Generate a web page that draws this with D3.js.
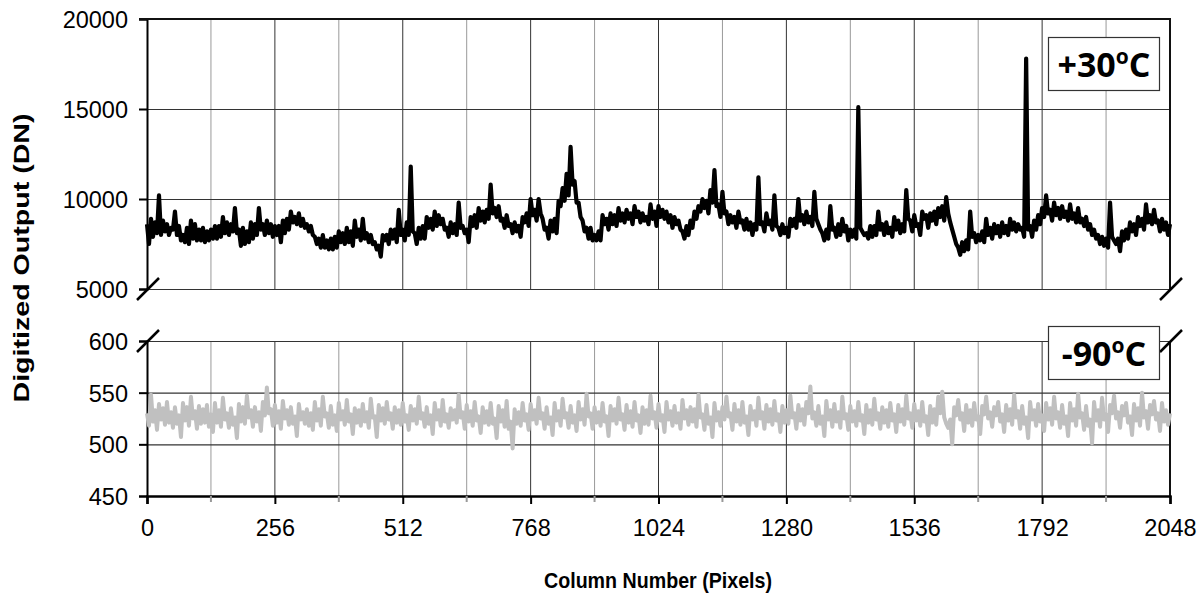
<!DOCTYPE html>
<html>
<head>
<meta charset="utf-8">
<script src="https://cdn.jsdelivr.net/npm/d3@7"></script>
<style>
  body { margin: 0; background: #fff; }
  text { font-family: "Liberation Sans", Arial, sans-serif; fill: #000; }
  .tick text { font-size: 23.5px; }
  .title { font-size: 22px; font-weight: bold; }
  .tag { font-family: "Open Sans", sans-serif; font-weight: bold; font-size: 34px; }
</style>
</head>
<body>
<svg id="chart" width="1202" height="597"></svg>
<script>
// column step of the sampled profiles (pixels)
const STEP = 4;

const xTicks = [0, 256, 512, 768, 1024, 1280, 1536, 1792, 2048];
const topTicks = [5000, 10000, 15000, 20000];
const bottomTicks = [450, 500, 550, 600];

// +30 C profile, one value every 4 columns
const warmValues = [
  8600, 7500, 8900, 7900, 8700, 8100, 10200, 8000, 8800, 8200, 8600, 8000, 8400, 8300, 9300, 8000,
  8500, 7700, 8000, 7600, 8400, 7500, 8800, 7800, 8600, 7700, 8300, 7700, 8400, 7600, 8200, 7700,
  8300, 7800, 8500, 7800, 8500, 7900, 9000, 8100, 8700, 8000, 8600, 8200, 9500, 8100, 8300, 7400,
  8400, 7500, 8200, 7600, 8700, 7800, 8600, 8000, 9500, 8300, 8600, 8000, 8800, 8100, 8600, 7900,
  8500, 8000, 8500, 7600, 8800, 8100, 8900, 8300, 9300, 8700, 9000, 8600, 9200, 8500, 8900, 8400,
  8600, 8200, 8500, 8000, 7900, 7500, 7800, 7300, 8000, 7300, 7700, 7200, 7800, 7200, 7900, 7300,
  8200, 7600, 8100, 7500, 8400, 7600, 8200, 7400, 8800, 7900, 8300, 7700, 8900, 7800, 8100, 7600,
  8000, 7500, 7600, 7200, 7400, 6800, 8000, 7700, 8000, 7500, 8300, 7800, 8300, 7600, 9400, 8000,
  8300, 7700, 8700, 8000, 11800, 8200, 8100, 7500, 8400, 7800, 8500, 7800, 9000, 8400, 8900, 8300,
  9300, 8500, 9100, 8600, 8900, 8300, 8400, 7900, 8700, 8100, 8600, 8000, 9800, 8400, 8500, 8100,
  8300, 7600, 9000, 8500, 9100, 8400, 9500, 8800, 9300, 8700, 9400, 8900, 10800, 9200, 9500, 9000,
  9600, 8800, 8900, 8400, 9100, 8500, 8600, 8100, 8700, 8200, 8500, 7900, 9000, 8700, 9200, 8500,
  10000, 9100, 9400, 8800, 10000, 9200, 8900, 8300, 8400, 7800, 8800, 8200, 8900, 8100, 9900, 9600,
  10600, 9900, 11400, 10200, 12900, 10800, 11000, 9800, 9800, 9000, 8800, 8200, 8400, 7800, 8400, 7700,
  8000, 7700, 8200, 7700, 9100, 8600, 8900, 8300, 9200, 8600, 9100, 8500, 9500, 8800, 9200, 8700,
  9400, 8900, 9200, 8600, 9600, 9000, 9300, 8700, 9200, 8800, 9000, 8600, 9700, 8900, 9300, 8500,
  9600, 9000, 9400, 8900, 9300, 8700, 9100, 8400, 9000, 8600, 8800, 8300, 8200, 7800, 8500, 8000,
  8800, 8400, 9300, 8900, 9600, 9300, 10000, 9500, 9900, 9200, 10500, 9800, 11600, 9600, 9700, 9000,
  10400, 9200, 9300, 8600, 9100, 8700, 9000, 8400, 9300, 8700, 8800, 8300, 8900, 8300, 8700, 8000,
  8600, 8300, 11200, 8600, 8700, 8200, 9200, 8600, 8800, 8300, 10200, 8500, 8400, 8000, 8600, 8100,
  8400, 7900, 8900, 8500, 8900, 8400, 10000, 8800, 9100, 8600, 9300, 8700, 9000, 8500, 10400, 8900,
  8600, 8300, 8100, 7700, 8300, 7800, 9600, 8300, 8400, 7900, 8600, 8000, 8900, 8200, 8500, 7700,
  8300, 7900, 8300, 7800, 15100, 8400, 8200, 8000, 8100, 7800, 8500, 7900, 8500, 8000, 9300, 8300,
  8600, 8000, 8700, 8100, 8400, 7900, 9000, 8300, 8800, 8100, 8600, 8200, 10500, 8900, 8800, 8200,
  9100, 8500, 8600, 8000, 9300, 8900, 9100, 8400, 9200, 8800, 9300, 8600, 9500, 9000, 9600, 8800,
  10100, 9200, 8700, 8300, 7900, 7500, 7300, 6900, 7600, 7100, 7700, 7200, 9300, 7900, 8100, 7600,
  8000, 7700, 8200, 7600, 8900, 8000, 8400, 7800, 8600, 8100, 8500, 7900, 8700, 8100, 8500, 8000,
  8900, 8300, 8700, 8200, 8600, 8300, 8400, 7900, 17800, 8300, 8500, 7900, 8800, 8300, 9100, 8600,
  9500, 9000, 10200, 9200, 9400, 8800, 9800, 9100, 9500, 8900, 9600, 9000, 9300, 8800, 9700, 8900,
  9200, 8700, 9500, 8700, 8900, 8500, 9000, 8300, 8600, 8000, 8300, 7800, 8000, 7500, 7900, 7400,
  7800, 7300, 9800, 7900, 7700, 7500, 7800, 7100, 8200, 7700, 8300, 7800, 8700, 8200, 8600, 8000,
  9000, 8500, 8900, 8300, 9700, 8700, 9100, 8600, 9400, 8700, 8800, 8200, 8900, 8300, 8700, 8000,
  8600
];

// -90 C profile, one value every 4 columns
const coldValues = [
  530, 518, 548, 522, 533, 514, 539, 524, 535, 519, 541, 521, 531, 516, 536, 520,
  528, 507, 540, 523, 536, 518, 546, 525, 532, 515, 537, 520, 534, 521, 538, 517,
  529, 512, 540, 521, 533, 517, 545, 524, 530, 516, 535, 519, 526, 506, 539, 522,
  536, 520, 547, 526, 533, 517, 536, 522, 531, 513, 541, 528, 555, 530, 534, 518,
  538, 521, 532, 515, 542, 525, 533, 519, 536, 520, 527, 508, 539, 524, 531, 520,
  534, 518, 530, 514, 541, 523, 534, 518, 546, 527, 530, 516, 537, 519, 528, 513,
  540, 524, 532, 519, 543, 522, 529, 510, 535, 521, 533, 518, 539, 522, 531, 516,
  544, 526, 527, 507, 538, 523, 535, 520, 541, 524, 530, 515, 536, 521, 533, 519,
  540, 522, 528, 514, 537, 523, 534, 520, 546, 525, 530, 517, 536, 520, 528, 510,
  540, 524, 533, 518, 543, 522, 529, 516, 535, 524, 533, 521, 548, 526, 531, 515,
  538, 522, 532, 518, 541, 523, 527, 511, 536, 521, 532, 519, 540, 520, 525, 506,
  537, 522, 533, 517, 542, 515, 522, 496, 534, 520, 531, 518, 540, 523, 529, 514,
  539, 524, 533, 520, 545, 525, 530, 515, 536, 520, 526, 509, 540, 523, 532, 518,
  544, 526, 530, 516, 537, 521, 528, 513, 541, 524, 534, 519, 549, 527, 530, 515,
  536, 521, 531, 518, 540, 522, 527, 508, 537, 523, 534, 520, 545, 524, 529, 514,
  538, 521, 532, 517, 541, 523, 528, 511, 536, 520, 533, 519, 547, 525, 531, 516,
  539, 523, 528, 512, 541, 524, 532, 518, 537, 521, 530, 515, 543, 525, 533, 519,
  536, 522, 534, 517, 548, 526, 529, 514, 538, 520, 526, 507, 540, 523, 531, 518,
  536, 524, 546, 527, 530, 514, 539, 522, 533, 519, 541, 521, 527, 509, 537, 524,
  532, 518, 545, 525, 531, 515, 538, 522, 534, 519, 542, 523, 529, 512, 537, 521,
  533, 520, 547, 526, 530, 515, 538, 523, 534, 519, 541, 530, 556, 525, 531, 518,
  537, 520, 527, 508, 542, 524, 533, 517, 539, 522, 531, 516, 546, 525, 529, 514,
  537, 522, 532, 518, 541, 523, 528, 510, 538, 521, 533, 519, 544, 524, 530, 515,
  536, 521, 533, 517, 540, 523, 529, 512, 538, 522, 534, 519, 547, 525, 530, 516,
  539, 523, 532, 518, 541, 522, 527, 509, 537, 521, 534, 519, 546, 530, 551, 526,
  520, 516, 524, 500, 536, 528, 543, 524, 530, 513, 538, 521, 533, 518, 540, 524,
  527, 510, 537, 529, 546, 525, 531, 517, 536, 528, 541, 522, 529, 512, 538, 523,
  534, 519, 548, 526, 532, 515, 537, 520, 526, 506, 541, 524, 533, 518, 539, 522,
  528, 513, 540, 524, 535, 519, 546, 525, 531, 516, 538, 520, 527, 508, 540, 523,
  534, 518, 549, 526, 530, 514, 537, 518, 524, 501, 541, 523, 533, 517, 545, 524,
  529, 512, 538, 530, 547, 525, 531, 516, 537, 528, 540, 521, 527, 509, 539, 523,
  535, 518, 550, 526, 532, 515, 538, 529, 542, 524, 530, 513, 540, 522, 533, 519,
  530
];

const svg = d3.select('#chart');

const x = d3.scaleLinear().domain([0, 2048]).range([147, 1170]);
const yTop = d3.scaleLinear().domain([5000, 20000]).range([289, 19]);
const yBot = d3.scaleLinear().domain([450, 600]).range([496, 341]);

const minorX = d3.range(128, 2048, 128);

function drawPanel(y, ticks) {
  const g = svg.append('g');
  const [y0, y1] = y.range();

  // vertical grid
  g.selectAll('line.vgrid')
    .data(minorX)
    .join('line')
    .attr('x1', d => x(d)).attr('x2', d => x(d))
    .attr('y1', y1).attr('y2', y0)
    .attr('stroke', d => d % 256 === 0 ? '#333' : '#999')
    .attr('stroke-width', 1);

  // horizontal grid
  g.selectAll('line.hgrid')
    .data(ticks)
    .join('line')
    .attr('x1', x(0)).attr('x2', x(2048))
    .attr('y1', d => y(d) + 0.5).attr('y2', d => y(d) + 0.5)
    .attr('stroke', '#333')
    .attr('stroke-width', 1.2);

  // right border
  g.append('line')
    .attr('x1', x(2048)).attr('x2', x(2048))
    .attr('y1', y1).attr('y2', y0)
    .attr('stroke', '#111').attr('stroke-width', 2);

  // left axis
  const axis = g.append('g')
    .attr('transform', `translate(${x(0)},0)`)
    .call(d3.axisLeft(y).tickValues(ticks).tickSize(8).tickPadding(11).tickFormat(d3.format('d')));
  axis.select('.domain').attr('stroke', '#000').attr('stroke-width', 2);
  axis.selectAll('.tick line').attr('stroke', '#000').attr('stroke-width', 2);
  axis.selectAll('.tick text').attr('dy', '0.36em');
  return g;
}

const topPanel = drawPanel(yTop, topTicks);
const botPanel = drawPanel(yBot, bottomTicks);

// top border of upper panel
topPanel.append('line')
  .attr('x1', x(0) - 8).attr('x2', x(2048) + 1)
  .attr('y1', yTop(20000)).attr('y2', yTop(20000))
  .attr('stroke', '#111').attr('stroke-width', 2);

// bottom axis of lower panel
const xAxis = botPanel.append('g')
  .attr('transform', `translate(0,${yBot(450)})`)
  .call(d3.axisBottom(x).tickValues(xTicks).tickSize(8).tickPadding(15).tickFormat(d3.format('d')));
xAxis.select('.domain').attr('stroke', '#000').attr('stroke-width', 2.5);
xAxis.selectAll('.tick line').attr('stroke', '#000').attr('stroke-width', 2);
botPanel.selectAll('line.minor')
  .data(minorX.filter(d => d % 256 !== 0))
  .join('line')
  .attr('x1', d => x(d)).attr('x2', d => x(d))
  .attr('y1', yBot(450)).attr('y2', yBot(450) + 6)
  .attr('stroke', '#999').attr('stroke-width', 2);

// data lines
const warmLine = d3.line().x((d, i) => x(i * STEP)).y(d => yTop(d));
const coldLine = d3.line().x((d, i) => x(i * STEP)).y(d => yBot(d));

botPanel.append('path')
  .attr('d', coldLine(coldValues))
  .attr('fill', 'none')
  .attr('stroke', '#c0c0c0')
  .attr('stroke-width', 4)
  .attr('stroke-linejoin', 'round');

topPanel.append('path')
  .attr('d', warmLine(warmValues))
  .attr('fill', 'none')
  .attr('stroke', '#000')
  .attr('stroke-width', 4.2)
  .attr('stroke-linejoin', 'round');

// axis break marks
const breaks = [
  [x(0), yTop(5000)], [x(2048), yTop(5000)],
  [x(0), yBot(600)], [x(2048), yBot(600)]
];
svg.selectAll('line.brk')
  .data(breaks)
  .join('line')
  .attr('x1', d => d[0] - 10).attr('y1', d => d[1] + 11)
  .attr('x2', d => d[0] + 12).attr('y2', d => d[1] - 11)
  .attr('stroke', '#000').attr('stroke-width', 2.5);

// temperature tags
function tag(x0, y0, label) {
  const g = svg.append('g');
  g.append('rect')
    .attr('x', x0).attr('y', y0).attr('width', 111).attr('height', 53)
    .attr('fill', '#fff').attr('stroke', '#333').attr('stroke-width', 1.2);
  const t = g.append('text').attr('class', 'tag')
    .attr('x', x0 + 55.5).attr('y', y0 + 39).attr('text-anchor', 'middle');
  t.append('tspan').text(label);
  t.append('tspan').attr('font-size', '21px').attr('dy', '-13').text('o');
  t.append('tspan').attr('dy', '13').text('C');
}
tag(1048.5, 37.5, '+30');
tag(1048.5, 326.5, '-90');

// axis titles
svg.append('text').attr('class', 'title')
  .attr('transform', `translate(29,258) rotate(-90)`)
  .attr('text-anchor', 'middle')
  .attr('textLength', 289)
  .attr('lengthAdjust', 'spacingAndGlyphs')
  .text('Digitized Output (DN)');

svg.append('text').attr('class', 'title')
  .attr('x', 658).attr('y', 588)
  .attr('font-size', '23px')
  .attr('text-anchor', 'middle')
  .attr('textLength', 228)
  .attr('lengthAdjust', 'spacingAndGlyphs')
  .text('Column Number (Pixels)');
</script>
</body>
</html>
